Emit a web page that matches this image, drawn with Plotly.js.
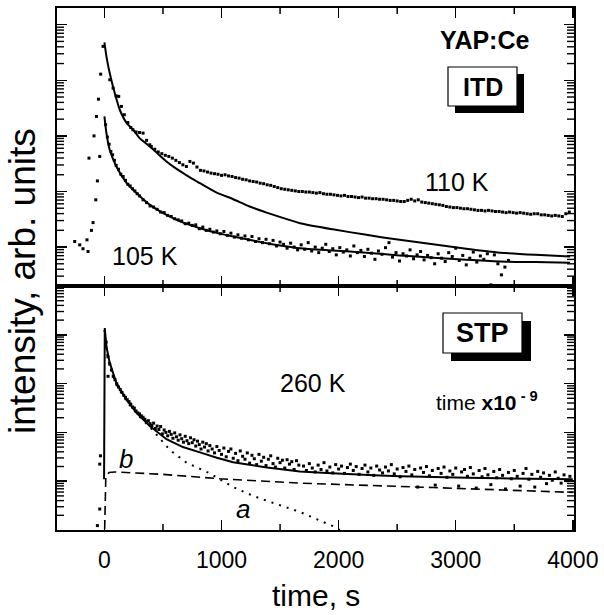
<!DOCTYPE html>
<html>
<head>
<meta charset="utf-8">
<script src="https://cdn.plot.ly/plotly-3.0.1.min.js"></script>
<style>html,body{margin:0;padding:0;background:#fff;}#chart{width:604px;height:615px;}</style>
</head>
<body>
<div id="chart"></div>
<script>
// ---------- data (time in s, intensity as log10 of arb. units) ----------
// ITD 110 K : measured points
const t110 = [-254,-211,-183,-149,-140,-132,-111,-97,-89,-74,-68,-60,-51,-40,-32,-12,
  46,74,100,122,145,170,200,225,243,270,300,330,360,387,
  400,430,460,490,520,550,580,610,640,670,700,730,760,790,820,850,880,910,940,970,
  1000,1030,1060,1090,1120,1150,1180,1210,1240,1270,1300,1330,1360,1390,1420,1450,1480,1510,1540,1570,
  1600,1630,1660,1690,1720,1750,1780,1810,1840,1870,1900,1930,1960,1990,2020,2050,2080,2110,2140,2170,
  2200,2230,2260,2290,2320,2350,2380,2410,2440,2470,2500,2530,2560,2590,2620,2650,2680,2710,2740,2770,
  2800,2830,2860,2890,2920,2950,2980,3010,3040,3070,3100,3130,3160,3190,3220,3250,3280,3310,3340,3370,
  3400,3430,3460,3490,3520,3550,3580,3610,3640,3670,3700,3730,3760,3790,3820,3850,3880,3910,3940,3970];
const logI110 = [1.10,1.04,0.97,1.13,0.92,2.60,1.30,1.44,3.00,1.85,3.35,2.19,3.66,2.63,4.11,4.61,
  4.01,3.86,3.72,3.71,3.53,3.38,3.24,3.15,3.11,3.07,3.06,3.05,2.92,2.84,
  2.81,2.76,2.71,2.68,2.65,2.63,2.60,2.56,2.52,2.48,2.45,2.54,2.51,2.44,2.38,2.37,2.35,2.33,2.32,2.31,
  2.29,2.30,2.28,2.27,2.25,2.24,2.22,2.21,2.19,2.18,2.17,2.15,2.14,2.12,2.11,2.09,2.07,2.05,2.04,2.03,
  2.02,2.01,2.00,2.00,1.99,1.99,1.98,1.97,1.98,1.96,1.95,1.95,1.94,1.93,1.92,1.93,1.91,1.91,1.90,1.89,
  1.90,1.88,1.88,1.87,1.87,1.86,1.86,1.85,1.84,1.84,1.83,1.82,1.82,1.84,1.86,1.83,1.85,1.81,1.80,1.79,
  1.78,1.77,1.76,1.75,1.73,1.72,1.71,1.71,1.70,1.69,1.69,1.68,1.67,1.66,1.66,1.65,1.66,1.65,1.64,1.64,
  1.63,1.62,1.63,1.62,1.61,1.62,1.61,1.60,1.59,1.60,1.60,1.58,1.58,1.57,1.56,1.57,1.56,1.55,1.60,1.63];
// ITD 110 K : fit
const tFit110 = [0,17,45,88,131,190,246,300,388,460,530,600,672,740,815,950,1100,1240,1385,1530,1670,1950,2237,2520,2806,3090,3379,3680,3977];
const logFit110 = [4.68,4.43,4.13,3.77,3.47,3.23,3.11,2.96,2.81,2.67,2.54,2.43,2.33,2.24,2.15,1.99,1.86,1.73,1.62,1.52,1.43,1.32,1.22,1.13,1.05,0.97,0.90,0.86,0.83];

// ITD 105 K : measured points
const t105 = [10,25,40,55,70,85,100,120,140,160,180,200,220,240,260,280,300,330,360,390,
  420,450,480,510,540,570,600,630,660,690,720,750,780,810,840,870,900,930,960,990,
  1020,1050,1080,1110,1140,1170,1200,1230,1260,1290,1320,1350,1380,1410,1440,1470,1500,1530,1560,1590,
  1620,1650,1680,1710,1740,1770,1800,1830,1860,1890,1920,1950,1980,2010,2040,2070,2100,2130,2160,2190,
  2220,2250,2280,2310,2340,2370,2400,2430,2460,2490,2520,2550,2580,2610,2640,2670,2700,2730,2760,2790,
  2820,2850,2880,2910,2940,2970,3000,3030,3060,3090,3120,3150,3180,3210,3240,3270,3300,3330,3360,3390,3420,3450];
const logI105 = [3.20,2.98,2.85,2.72,2.66,2.56,2.47,2.40,2.31,2.27,2.20,2.13,2.10,2.05,2.01,1.96,1.92,1.85,1.80,1.74,
  1.72,1.68,1.63,1.62,1.57,1.55,1.51,1.49,1.47,1.42,1.43,1.39,1.40,1.33,1.36,1.30,1.32,1.27,1.29,1.24,
  1.28,1.21,1.25,1.18,1.22,1.16,1.20,1.13,1.19,1.10,1.15,1.08,1.14,1.06,1.12,1.02,1.09,1.05,0.98,1.07,
  1.00,0.95,1.04,0.96,1.08,0.93,1.00,0.90,0.98,1.05,0.92,0.97,0.86,0.99,0.91,0.95,0.84,1.02,0.90,0.94,
  0.83,0.96,0.89,0.78,0.93,0.87,0.99,1.08,0.82,0.90,0.75,0.88,0.84,0.95,0.79,0.86,0.92,0.77,0.85,0.81,
  0.70,0.88,0.80,0.74,0.90,0.83,0.98,0.76,0.85,0.68,0.80,0.91,0.73,0.84,0.78,0.88,0.32,0.86,0.70,0.50,0.64,0.76];
// ITD 105 K : fit
const tFit105 = [0,17,45,102,190,305,388,530,672,815,950,1100,1240,1385,1530,1670,1950,2237,2520,2806,3090,3379,3680,3977];
const logFit105 = [3.35,3.05,2.75,2.45,2.15,1.91,1.76,1.58,1.44,1.34,1.26,1.19,1.13,1.07,1.02,0.98,0.94,0.90,0.85,0.81,0.77,0.74,0.73,0.72];

// STP 260 K : measured points
const t260 = [-60,-40,-40,-34,31,
  15,30,45,60,75,90,105,120,135,150,165,180,195,210,225,240,255,270,285,300,315,330,345,360,375,390,
  405,420,435,450,465,480,495,510,525,540,555,570,585,600,615,630,645,660,675,690,705,720,735,750,
  765,780,795,810,825,840,855,870,885,900,920,940,960,980,1000,1020,1040,1060,1080,1100,1120,1140,1160,1180,
  1200,1220,1240,1260,1280,1300,1320,1340,1360,1380,1400,1420,1440,1460,1480,1500,1520,1540,1560,1580,1600,1620,1640,1660,
  1700,1725,1750,1775,1800,1825,1850,1875,1900,1925,1950,1975,2000,2025,2050,2075,2100,2125,2150,2175,
  2200,2225,2250,2275,2300,2325,2350,2375,2400,2425,2450,2475,2500,2525,2550,2575,2600,2625,2650,2675,
  2700,2725,2750,2775,2800,2825,2850,2875,2900,2925,2950,2975,3000,3025,3050,3075,3100,3125,3150,3175,
  3200,3225,3250,3275,3300,3325,3350,3375,3400,3425,3450,3475,3500,3525,3550,3575,3600,3625,3650,3675,
  3700,3725,3750,3775,3800,3825,3850,3875,3900,3925,3950,3975];
const logI260 = [0.09,0.43,1.35,1.52,3.15,
  3.85,3.55,3.40,3.28,3.15,3.08,3.00,2.93,2.88,2.82,2.76,2.72,2.67,2.63,2.58,2.52,2.50,2.44,2.40,2.38,2.34,2.31,2.27,2.22,2.24,2.18,
  2.14,2.19,2.08,2.13,2.06,2.12,1.97,2.05,2.00,1.93,2.02,1.96,1.88,1.99,1.91,1.84,1.95,1.87,1.80,1.92,1.83,1.77,1.89,1.79,
  1.85,1.72,1.82,1.75,1.66,1.80,1.70,1.77,1.62,1.73,1.66,1.58,1.71,1.63,1.55,1.68,1.50,1.61,1.66,1.47,1.57,1.42,1.62,1.51,
  1.45,1.58,1.37,1.53,1.46,1.34,1.55,1.41,1.49,1.32,1.45,1.52,1.36,1.29,1.47,1.38,1.43,1.27,1.44,1.35,1.40,1.24,1.42,1.33,
  1.31,1.22,1.36,1.27,1.19,1.33,1.24,1.38,1.21,1.29,1.17,1.34,1.25,1.31,1.16,1.28,1.35,1.22,1.30,1.14,
  1.26,1.33,1.19,1.27,1.12,1.31,1.23,1.17,1.29,1.21,1.34,1.15,1.25,1.09,1.28,1.20,1.31,1.13,1.24,0.88,
  1.27,1.18,1.30,1.11,1.22,0.92,1.26,1.16,1.29,1.08,1.21,1.14,1.27,0.90,1.19,1.24,1.10,1.28,1.15,0.86,
  1.22,1.09,1.26,1.13,0.93,1.20,1.07,1.24,1.12,0.84,1.18,1.05,1.22,1.10,0.90,1.16,1.26,1.04,1.14,0.88,
  1.20,1.08,1.17,0.95,1.12,1.02,1.19,1.06,0.96,1.13,1.01,1.10];
// STP 260 K : total fit
const tFit260 = [-3,3,17,45,102,188,274,387,530,670,816,960,1099,1250,1388,1530,1669,1900,2100,2300,2524,2800,3100,3379,3700,4000];
const logFit260 = [1.04,4.14,3.76,3.43,3.01,2.67,2.40,2.13,1.86,1.70,1.59,1.48,1.39,1.33,1.28,1.24,1.20,1.17,1.14,1.12,1.10,1.08,1.07,1.06,1.05,1.04];
// STP component b (dashed)
const tB = [2,12,40,88,500,986,1669,2250,2806,3400,4000];
const logB = [0.02,1.10,1.18,1.19,1.14,1.05,0.96,0.92,0.87,0.82,0.77];
// STP component a (dotted)
const tA = [0,20,50,100,200,300,400,558,701,900,1099,1270,1385,1669,1950,2010];
const logA = [4.10,3.65,3.32,2.98,2.60,2.32,2.08,1.64,1.38,1.16,0.88,0.70,0.60,0.37,0.08,0.00];

// tick positions
const xMajorTicks = [0, 1000, 2000, 3000, 4000];
const xMinorTicks = [500, 1500, 2500, 3500];

// ---------- helpers ----------
const pw = a => a.map(v => Math.pow(10, v));
const FONT = '"Liberation Sans", Arial, Helvetica, sans-serif';

function minorVals(lo, hi) {
  const v = [];
  for (let e = lo; e <= hi; e++) for (let m = 2; m <= 9; m++) v.push(m * Math.pow(10, e));
  return v;
}
function decades(lo, hi) {
  const v = [];
  for (let e = lo; e <= hi; e++) v.push(Math.pow(10, e));
  return v;
}

const dot = {mode: 'markers', marker: {symbol: 'square', size: 3, color: '#000'}, hoverinfo: 'skip', showlegend: false};

const traces = [
  Object.assign({x: t110, y: pw(logI110), xaxis: 'x2', yaxis: 'y'}, dot),
  Object.assign({x: t105, y: pw(logI105), xaxis: 'x2', yaxis: 'y'}, dot),
  {x: tFit110, y: pw(logFit110), xaxis: 'x2', yaxis: 'y', mode: 'lines', line: {color: '#000', width: 2, shape: 'spline', smoothing: 0.6}, showlegend: false},
  {x: tFit105, y: pw(logFit105), xaxis: 'x2', yaxis: 'y', mode: 'lines', line: {color: '#000', width: 2, shape: 'spline', smoothing: 0.6}, showlegend: false},
  Object.assign({x: t260, y: pw(logI260), xaxis: 'x', yaxis: 'y2'}, dot),
  {x: tB, y: pw(logB), xaxis: 'x', yaxis: 'y2', mode: 'lines', line: {color: '#000', width: 1.6, dash: '9px,5px'}, showlegend: false},
  {x: tA, y: pw(logA), xaxis: 'x', yaxis: 'y2', mode: 'lines', line: {color: '#000', width: 2, dash: '2px,6px'}, showlegend: false},
  {x: tFit260, y: pw(logFit260), xaxis: 'x', yaxis: 'y2', mode: 'lines', line: {color: '#000', width: 2}, showlegend: false}
];

const XR = [-405, 4010];
const xCommon = {
  range: XR, showline: true, linecolor: '#000', linewidth: 2, mirror: 'ticks',
  ticks: 'inside', ticklen: 10, tickwidth: 1.5, tickcolor: '#000',
  tickmode: 'array', tickvals: xMajorTicks,
  showgrid: false, zeroline: false, fixedrange: true
};
const yCommon = {
  type: 'log', showline: true, linecolor: '#000', linewidth: 2, mirror: 'ticks',
  ticks: 'inside', ticklen: 10, tickwidth: 1.5, tickcolor: '#000', showticklabels: false,
  tickmode: 'array', showgrid: false, zeroline: false, fixedrange: true
};
const split = 244 / 522;
const RY1 = [0.3, 5.3], RY2 = [0, 5];
const DOM1 = [split, 1], DOM2 = [0, split];

const P = (px) => (px - 57) / 517;      // pixel -> paper x
const Q = (py) => (530 - py) / 522;     // pixel -> paper y

// short (minor) tick marks, placed on both sides of each frame
const shapes = [];
function yMinorShapes(vals, range, dom) {
  vals.forEach(v => {
    const lv = Math.log10(v);
    if (lv < range[0] || lv > range[1]) return;
    const p = dom[0] + (lv - range[0]) / (range[1] - range[0]) * (dom[1] - dom[0]);
    [[0, 7 / 517], [1 - 7 / 517, 1]].forEach(([a, b]) => shapes.push({type: 'line', xref: 'paper', yref: 'paper', x0: a, x1: b, y0: p, y1: p, line: {color: '#000', width: 1.4}}));
  });
}
yMinorShapes(minorVals(0, 5), RY1, DOM1);
yMinorShapes(minorVals(0, 4), RY2, DOM2);
xMinorTicks.forEach(v => {
  [[0, 6 / 522], [split - 6 / 522, split + 6 / 522], [1 - 6 / 522, 1]].forEach(([a, b]) =>
    shapes.push({type: 'line', xref: 'x', yref: 'paper', x0: v, x1: v, y0: a, y1: b, line: {color: '#000', width: 1.5}}));
});
// label boxes with drop shadow
shapes.push(
  {type: 'rect', xref: 'paper', yref: 'paper', x0: P(455), x1: P(524), y0: Q(113), y1: Q(74), fillcolor: '#000', line: {width: 0}},
  {type: 'rect', xref: 'paper', yref: 'paper', x0: P(448), x1: P(517), y0: Q(106), y1: Q(67), fillcolor: '#fff', line: {color: '#000', width: 1.2}},
  {type: 'rect', xref: 'paper', yref: 'paper', x0: P(451), x1: P(531), y0: Q(361), y1: Q(321), fillcolor: '#000', line: {width: 0}},
  {type: 'rect', xref: 'paper', yref: 'paper', x0: P(443), x1: P(522), y0: Q(353), y1: Q(313), fillcolor: '#fff', line: {color: '#000', width: 1.2}}
);

const layout = {
  width: 604, height: 615,
  margin: {l: 57, r: 30, t: 8, b: 85},
  paper_bgcolor: '#fff', plot_bgcolor: '#fff',
  font: {family: FONT, color: '#000'},
  showlegend: false,
  xaxis: Object.assign({}, xCommon, {anchor: 'y2', showticklabels: true, tickfont: {size: 23, family: FONT}, ticklabelstandoff: 8}),
  xaxis2: Object.assign({}, xCommon, {anchor: 'y', showticklabels: false}),
  yaxis: Object.assign({}, yCommon, {domain: DOM1, range: RY1, tickvals: decades(0, 5)}),
  yaxis2: Object.assign({}, yCommon, {domain: DOM2, range: RY2, tickvals: decades(0, 5)}),
  shapes: shapes,
  annotations: [
    {text: 'intensity, arb. units', xref: 'paper', yref: 'paper', x: P(22), y: Q(281), textangle: -90, showarrow: false, font: {size: 37, family: FONT}, xanchor: 'center', yanchor: 'middle'},
    {text: 'time, s', xref: 'paper', yref: 'paper', x: P(316), y: Q(614), showarrow: false, font: {size: 30, family: FONT}, xanchor: 'center', yanchor: 'bottom'},
    {text: '<b>YAP:Ce</b>', xref: 'paper', yref: 'paper', x: P(484), y: Q(40), showarrow: false, font: {size: 25, family: FONT}, xanchor: 'center', yanchor: 'middle'},
    {text: '<b>ITD</b>', xref: 'paper', yref: 'paper', x: P(482.5), y: Q(87), showarrow: false, font: {size: 25, family: FONT}, xanchor: 'center', yanchor: 'middle'},
    {text: '110 K', xref: 'paper', yref: 'paper', x: P(457), y: Q(182), showarrow: false, font: {size: 25, family: FONT}, xanchor: 'center', yanchor: 'middle'},
    {text: '105 K', xref: 'paper', yref: 'paper', x: P(145), y: Q(256), showarrow: false, font: {size: 25, family: FONT}, xanchor: 'center', yanchor: 'middle'},
    {text: '<b>STP</b>', xref: 'paper', yref: 'paper', x: P(482.5), y: Q(333), showarrow: false, font: {size: 27, family: FONT}, xanchor: 'center', yanchor: 'middle'},
    {text: '260 K', xref: 'paper', yref: 'paper', x: P(313), y: Q(383), showarrow: false, font: {size: 25, family: FONT}, xanchor: 'center', yanchor: 'middle'},
    {text: 'time <b>x10</b><sup><b> - 9</b></sup>', xref: 'paper', yref: 'paper', x: P(487), y: Q(401), showarrow: false, font: {size: 21, family: FONT}, xanchor: 'center', yanchor: 'middle'},
    {text: '<i>b</i>', xref: 'paper', yref: 'paper', x: P(126), y: Q(459), showarrow: false, font: {size: 26, family: FONT}, xanchor: 'center', yanchor: 'middle'},
    {text: '<i>a</i>', xref: 'paper', yref: 'paper', x: P(243), y: Q(509), showarrow: false, font: {size: 26, family: FONT}, xanchor: 'center', yanchor: 'middle'}
  ]
};

Plotly.newPlot('chart', traces, layout, {staticPlot: true, displayModeBar: false});
</script>
</body>
</html>
